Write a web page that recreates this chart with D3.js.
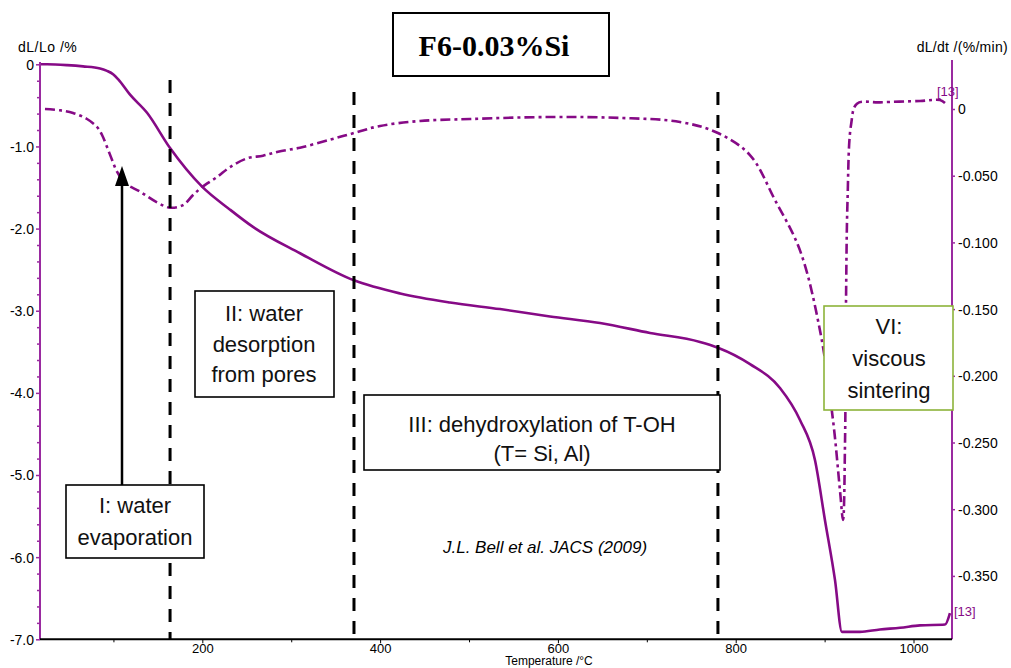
<!DOCTYPE html>
<html><head><meta charset="utf-8">
<script src="https://cdn.jsdelivr.net/npm/d3@7/dist/d3.min.js"></script>
<style>
html,body{margin:0;padding:0;background:#fff;}
svg{display:block;font-family:"Liberation Sans",Arial,sans-serif;}
</style></head>
<body>
<svg id="c" width="1011" height="668"></svg>
<script>
// ---- data ----
const tlTemp = [17.4, 25.3, 47.8, 65.8, 84.9, 92.8, 99.6, 105.2, 118.7, 137.8, 163.7, 199.7, 231.2, 257, 309.9, 370.6, 422.6, 478.6, 534.9, 591.1, 647.4, 703.6, 759.8, 780, 816.1, 849.8, 872.3, 889.2, 900.4, 911.7, 919.5, 939.6, 962.2, 984.8, 1007.3, 1035.4, 1041];
const tlValue = [0, 0, -0.01, -0.025, -0.05, -0.08, -0.12, -0.18, -0.37, -0.59, -1.02, -1.49, -1.77, -1.98, -2.30, -2.63, -2.79, -2.90, -2.98, -3.07, -3.15, -3.27, -3.38, -3.45, -3.65, -3.94, -4.33, -4.82, -5.55, -6.28, -6.91, -6.91, -6.88, -6.86, -6.83, -6.82, -6.68];

const dtgTemp = [23, 40, 54.6, 70.3, 81.6, 87.2, 92.8, 98.4, 104, 113, 130, 149, 163.7, 178.3, 189.6, 199.7, 216.5, 231.2, 250.3, 268.3, 285.2, 309.9, 343.6, 370.6, 400, 444.9, 501.1, 591.1, 669.8, 737.3, 780, 816, 844, 872.3, 894.8, 909.4, 917.3, 920.7, 923, 924.1, 925.8, 929.7, 936.4, 962.2, 1007.3, 1029.8, 1035.4];
const dtgValue = [0, -0.001, -0.003, -0.0075, -0.0135, -0.0195, -0.0285, -0.038, -0.047, -0.0555, -0.062, -0.070, -0.074, -0.072, -0.0645, -0.0585, -0.051, -0.0435, -0.037, -0.035, -0.032, -0.029, -0.023, -0.018, -0.0127, -0.009, -0.0075, -0.006, -0.0067, -0.0097, -0.018, -0.0345, -0.068, -0.106, -0.166, -0.233, -0.286, -0.308, -0.248, -0.143, -0.068, -0.012, 0.004, 0.005, 0.006, 0.0067, 0.0045];

const xTicks = [200, 400, 600, 800, 1000];
const xMinorTicks = [100, 300, 500, 700, 900];
const leftTicks = [0, -1, -2, -3, -4, -5, -6, -7];
const rightTicks = [0, -0.05, -0.10, -0.15, -0.20, -0.25, -0.30, -0.35];
const stageTemps = [163.7, 370.6, 780];

const titleText = "F6-0.03%Si";
const leftTitle = "dL/Lo /%";
const rightTitle = "dL/dt /(%/min)";
const xTitle = "Temperature /°C";
const citation = "J.L. Bell et al. JACS (2009)";

// ---- layout ----
const svg = d3.select("#c");
const purple = "#860a86";
const axisPurple = "#9a2aa0";
const x = d3.scaleLinear().domain([17.4, 1043.3]).range([40, 952]);
const yL = d3.scaleLinear().domain([-7, 0]).range([639.3, 64.3]);
const yR = d3.scaleLinear().domain([-0.35, 0]).range([575.9, 109]);
const hyph = s => s.replace("\u2212", "-");

// curves
const lineTL = d3.line().x((d,i)=>x(tlTemp[i])).y(d=>yL(d)).curve(d3.curveMonotoneX);
svg.append("path").datum(tlValue).attr("d", lineTL)
  .attr("fill","none").attr("stroke",purple).attr("stroke-width",2.6);

const lineDTG = d3.line().x((d,i)=>x(dtgTemp[i])).y(d=>yR(d)).curve(d3.curveCatmullRom.alpha(0.5));
svg.append("path").datum(dtgValue).attr("d", lineDTG)
  .attr("fill","none").attr("stroke",purple).attr("stroke-width",2.6)
  .attr("stroke-dasharray","10,4,3,4");

// stage dashed lines
const stageTop = [80, 92, 92];
svg.selectAll("line.stage").data(stageTemps).enter().append("line")
  .attr("x1",d=>x(d)).attr("x2",d=>x(d))
  .attr("y1",(d,i)=>stageTop[i]).attr("y2",639)
  .attr("stroke","#000").attr("stroke-width",3).attr("stroke-dasharray","13,10");

// axes
const gL = svg.append("g").attr("transform","translate(40,0)");
gL.call(d3.axisLeft(yL).tickValues(leftTicks).tickSize(4).tickPadding(2)
  .tickFormat(d=> d===0 ? "0" : hyph(d3.format(".1f")(d))));
const leftMinor = d3.range(0, 36).map(i=>-i*0.2).filter(v=>Math.abs(v - Math.round(v))>1e-6);
gL.append("g").call(d3.axisLeft(yL).tickValues(leftMinor).tickSize(3).tickFormat(""));
gL.selectAll(".domain").remove();
gL.append("line").attr("y1",62).attr("y2",639.3).attr("stroke",axisPurple).attr("stroke-width",2);
gL.selectAll(".tick line").attr("stroke",axisPurple).attr("stroke-width",1.5);
gL.selectAll(".tick text").attr("fill","#000").style("font-size","14px").attr("dy","0.35em");

const gR = svg.append("g").attr("transform","translate(952,0)");
gR.call(d3.axisRight(yR).tickValues(rightTicks).tickSize(3).tickPadding(3)
  .tickFormat(d=> d===0 ? "0" : hyph(d3.format(".3f")(d))));
gR.selectAll(".domain").remove();
gR.append("line").attr("y1",60).attr("y2",639.3).attr("stroke",axisPurple).attr("stroke-width",2);
gR.selectAll(".tick line").attr("stroke",axisPurple).attr("stroke-width",1.5);
gR.selectAll(".tick text").attr("fill","#000").style("font-size","14px").attr("dy","0.35em");

const gX = svg.append("g").attr("transform","translate(0,639.3)");
gX.call(d3.axisBottom(x).tickValues(xTicks).tickSize(4).tickPadding(0).tickFormat(d3.format("d")));
gX.append("g").call(d3.axisBottom(x).tickValues(xMinorTicks).tickSize(3).tickFormat(""));
gX.selectAll(".domain").remove();
gX.append("line").attr("x1",40).attr("x2",952).attr("stroke","#000").attr("stroke-width",2);
gX.selectAll(".tick text").style("font-size","13px").attr("fill","#000");

// axis titles
svg.append("text").attr("x",18).attr("y",52).text(leftTitle).style("font-size","14px").style("letter-spacing","0.5px");
svg.append("text").attr("x",1008).attr("y",52).attr("text-anchor","end").text(rightTitle).style("font-size","14px").style("letter-spacing","0.3px");
svg.append("text").attr("x",549).attr("y",664.5).attr("text-anchor","middle").text(xTitle).style("font-size","12px");

// [13] markers
svg.append("text").attr("x",937).attr("y",96).text("[13]").attr("fill",purple).style("font-size","13px");
svg.append("text").attr("x",954).attr("y",616).text("[13]").attr("fill",purple).style("font-size","13px");

// title box
svg.append("rect").attr("x",393).attr("y",13).attr("width",216).attr("height",63)
  .attr("fill","#fff").attr("stroke","#000").attr("stroke-width",2);
svg.append("text").attr("x",494).attr("y",56).attr("text-anchor","middle")
  .style("font-family","'Liberation Serif','Times New Roman',serif").style("font-weight","bold").style("font-size","30px")
  .text(titleText);

// arrow
svg.append("line").attr("x1",122).attr("x2",122).attr("y1",486).attr("y2",182).attr("stroke","#000").attr("stroke-width",2.5);
svg.append("path").attr("d","M122,166 L115,186 L129,186 Z").attr("fill","#000");

// annotation boxes
function box(x0,y0,w,h,lines,cx,baselines,stroke){
  svg.append("rect").attr("x",x0).attr("y",y0).attr("width",w).attr("height",h)
    .attr("fill","#fff").attr("stroke",stroke).attr("stroke-width",1.6);
  lines.forEach((t,i)=>svg.append("text").attr("x",cx).attr("y",baselines[i])
    .attr("text-anchor","middle").style("font-size","22px").attr("fill","#111").text(t));
}
box(66,485,138,73,["I: water","evaporation"],135,[513,545],"#000");
box(195,291,139,106,["II: water","desorption","from pores"],264,[321,352,382],"#000");
box(364,395,356,75,["III: dehydroxylation of T-OH","(T= Si, Al)"],542,[432,461],"#000");
box(824,306,129,104,["VI:","viscous","sintering"],889,[334,366,398],"#8db33a");

svg.append("text").attr("x",545).attr("y",553).attr("text-anchor","middle")
  .style("font-style","italic").style("font-size","17px").text(citation);
</script>
</body></html>
